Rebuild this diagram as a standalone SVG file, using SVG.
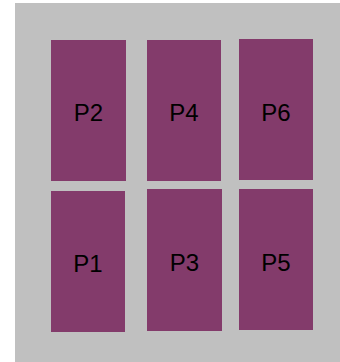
<svg xmlns="http://www.w3.org/2000/svg" width="340" height="362" viewBox="0 0 340 362">
<style>
.bg{fill:#c0c0c0}
.p{fill:#833b6b}
.t{font-family:"Liberation Sans",Arial,sans-serif;font-size:24px;fill:#000;text-anchor:middle}
</style>
<rect width="340" height="362" fill="#fff"/>
<rect class="bg" x="15" y="3" width="325" height="359"/>
<g id="P2"><rect class="p" x="51" y="40" width="75" height="141"/><text class="t" x="88.5" y="121">P2</text></g>
<g id="P4"><rect class="p" x="147" y="40" width="74" height="141"/><text class="t" x="184" y="121">P4</text></g>
<g id="P6"><rect class="p" x="239" y="39" width="74" height="141"/><text class="t" x="276" y="121">P6</text></g>
<g id="P1"><rect class="p" x="51" y="191" width="74" height="141"/><text class="t" x="88" y="272">P1</text></g>
<g id="P3"><rect class="p" x="147" y="189" width="75" height="142"/><text class="t" x="184.5" y="271">P3</text></g>
<g id="P5"><rect class="p" x="239" y="189" width="74" height="141"/><text class="t" x="276" y="271">P5</text></g>
<g id="connectors"/>
</svg>
